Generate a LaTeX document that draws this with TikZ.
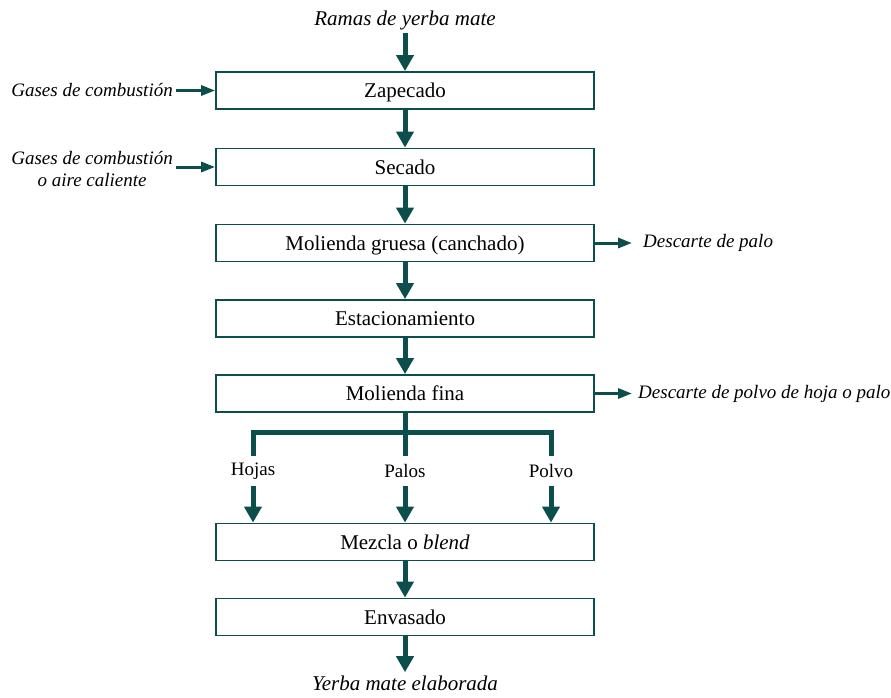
\documentclass[tikz,border=0pt]{standalone}
\usepackage{fontspec}
\setmainfont{Liberation Serif}
\usetikzlibrary{arrows.meta}
\definecolor{mategreen}{RGB}{12,78,76}

\begin{document}
\begin{tikzpicture}[x=1pt, y=-1pt,
  box/.style={draw=mategreen, line width=1.8pt, minimum width=378pt, minimum height=37pt, inner sep=0pt, text height=14pt, text depth=0pt, font=\fontsize{21}{24}\selectfont},
  lbl/.style={inner sep=3pt, font=\fontsize{21}{24}\selectfont\itshape},
  side/.style={inner sep=3pt, align=center, font=\fontsize{19}{22}\selectfont\itshape},
  part/.style={inner sep=0pt, minimum height=30pt, font=\fontsize{19}{22}\selectfont},
  flow/.style={draw=mategreen, line width=5pt, -{Triangle[length=16pt,width=17pt]}},
  bar/.style={draw=mategreen, line width=5pt},
  feed/.style={draw=mategreen, line width=3pt, -{Triangle[length=14pt,width=10pt]}}]
\useasboundingbox (0,0) rectangle (891,697);
% main line
\node[box] (zap) at (405,90.5) {Zapecado};
\node[box] (sec) at (405,167) {Secado};
\node[box] (mg) at (405,243) {Molienda gruesa (canchado)};
\node[box] (est) at (405,318.5) {Estacionamiento};
\node[box] (mf) at (405,393.5) {Molienda fina};
\node[box] (mez) at (405,542) {Mezcla o \textit{blend}};
\node[box] (env) at (405,617) {Envasado};
% inputs and outputs
\node[lbl, anchor=base] (ramas) at (405,25) {Ramas de yerba mate};
\node[lbl, anchor=base] (yerba) at (405,690) {Yerba mate elaborada};
\node[side, anchor=east] (gas1) at (176,90.5) {Gases de combustión};
\node[side, anchor=east] (gas2) at (176,169) {Gases de combustión\\o aire caliente};
\node[side, anchor=west] (desc1) at (640,243) {Descarte de palo};
\node[side, anchor=west] (desc2) at (635,393.5) {Descarte de polvo de hoja o palo};
% fractions
\coordinate (split) at (405,432);
\node[part] (hojas) at (253,471) {Hojas};
\node[part] (palos) at (405,471) {Palos};
\node[part] (polvo) at (551,471) {Polvo};

\draw[flow] (ramas) -- (zap);
\foreach \a/\b in {zap/sec, sec/mg, mg/est, est/mf, mez/env}
  \draw[flow] (\a) -- (\b);
\draw[flow] (env) -- (yerba);
\draw[feed] (gas1) -- (zap);
\draw[feed] (gas2.east |- sec) -- (sec.west);
\draw[feed, shorten >=8pt] (mg) -- (desc1);
\draw[feed, shorten >=3pt] (mf) -- (desc2);
\draw[bar] (mf) -- (palos);
\draw[bar] (hojas) |- (split) -| (polvo);
\foreach \p in {hojas, palos, polvo}
  \draw[flow] (\p) -- (\p |- mez.north);
\end{tikzpicture}
\end{document}
